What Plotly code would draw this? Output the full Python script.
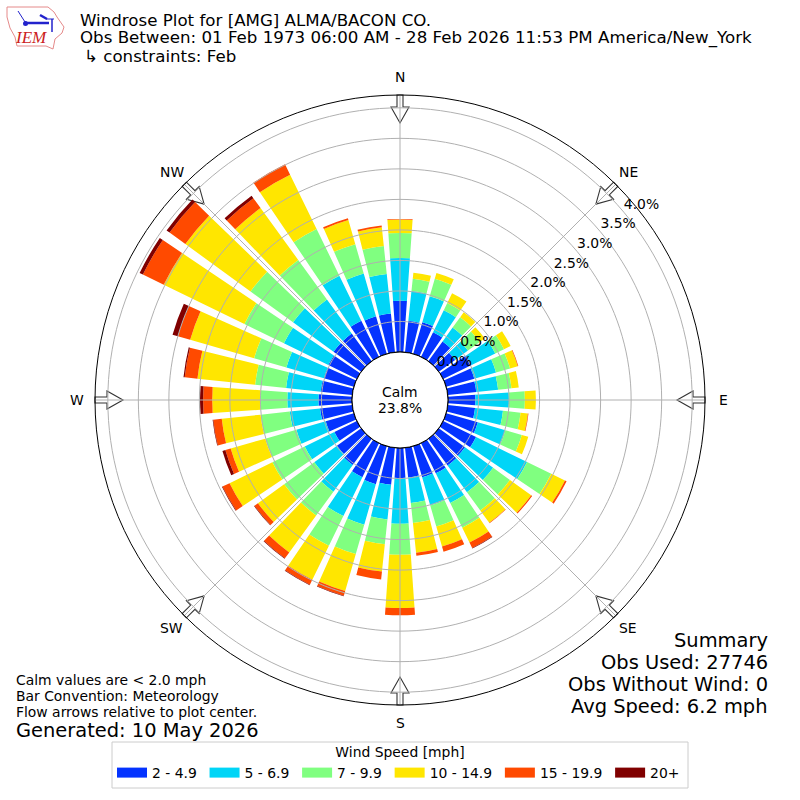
import math
import plotly.graph_objects as go

directions = list(range(0, 360, 10))
speed_bins = ["2 - 4.9", "5 - 6.9", "7 - 9.9", "10 - 14.9", "15 - 19.9", "20+"]
bin_colors = ["#0433ff", "#00d5f7", "#80ff80", "#ffe600", "#ff4a00", "#800000"]

# percent of observations per direction, one list per speed bin
speed_2_5 = [.84, .52, .54, .45, .40, .33, .52, .48, .47, .45, .45, .54,
             .60, .53, .54, .55, .53, .49, .49, .61, .65, .62, .53, .49,
             .41, .48, .53, .55, .52, .51, .52, .56, .56, .66, .64, .64]
speed_5_7 = [.70, .49, .44, .40, .28, .26, .43, .37, .36, .55, .46, .47,
             .93, .57, .54, .54, .48, .42, .75, .57, .69, .71, .54, .46,
             .54, .50, .50, .51, .57, .64, .81, .82, .69, .82, .73, .65]
speed_7_10 = [.41, .20, .30, .13, .21, .24, .16, .24, .22, .26, .29, .28,
              .44, .34, .37, .45, .36, .33, .51, .41, .50, .54, .48, .61,
              .59, .53, .48, .44, .51, .55, .72, .86, .80, .85, .50, .46]
speed_10_15 = [.22, .10, .10, .18, .10, .10, .12, .13, .12, .18, .12, .11,
               .25, .43, .25, .27, .34, .49, .87, .45, .63, .62, .75, .53,
               .78, .59, .64, .79, .95, 1.09, 1.47, 1.32, 1.05, .99, .41, .31]
speed_15_20 = [.01, 0, 0, 0, 0, 0, 0, .01, 0, 0, .01, 0,
               .03, .02, .01, .10, .09, .05, .12, .13, .08, .09, .12, .07,
               .13, .09, .14, .15, .21, .21, .38, .32, .20, .19, .03, .03]
speed_20_up = [0, 0, 0, 0, 0, 0, 0, 0, 0, 0, 0, 0,
               0, 0, 0, .01, 0, 0, 0, 0, .01, .01, .01, .01,
               .01, .05, .01, .05, .02, .09, .06, .06, .05, 0, 0, 0]
bin_values = [speed_2_5, speed_5_7, speed_7_10, speed_10_15, speed_15_20, speed_20_up]

radial_ticks = [0, 0.5, 1, 1.5, 2, 2.5, 3, 3.5, 4]
compass_angles = [0, 45, 90, 135, 180, 225, 270, 315]
compass_labels = ["N", "NE", "E", "SE", "S", "SW", "W", "NW"]

RMAX = 4.21
CENTER = 400
FONT = "DejaVu Sans"


def px(x, y):
    return x / 800, 1 - y / 800


def path_from(points, close=True):
    parts = []
    for i, (x, y) in enumerate(points):
        fx, fy = px(x, y)
        parts.append(("M" if i == 0 else "L") + f"{fx:.5f},{fy:.5f}")
    return " ".join(parts) + (" Z" if close else "")


def arrow_shape(angle):
    # white flow arrow pointing at the plot center, drawn in north position then rotated
    outline = [(-3, 305), (3, 305), (3, 293), (9, 293), (0, 277), (-9, 293), (-3, 293)]
    a = math.radians(angle)
    pts = []
    for off, r in outline:
        pts.append((CENTER + r * math.sin(a) + off * math.cos(a),
                    CENTER - r * math.cos(a) + off * math.sin(a)))
    return dict(type="path", xref="paper", yref="paper", path=path_from(pts),
                fillcolor="white", line=dict(color="#333333", width=1.1), layer="below")


fig = go.Figure()

for name, color, values in zip(speed_bins, bin_colors, bin_values):
    fig.add_trace(go.Barpolar(r=values, theta=directions, width=8, name=name,
                              marker=dict(color=color, line=dict(width=0)),
                              showlegend=False))

# grid sits on top of the bars in the original
ring_theta = list(range(0, 361, 2))
for tick in radial_ticks[1:]:
    fig.add_trace(go.Scatterpolar(r=[tick] * len(ring_theta), theta=ring_theta, mode="lines",
                                  line=dict(color="#b0b0b0", width=1), showlegend=False,
                                  hoverinfo="skip"))
for angle in compass_angles:
    fig.add_trace(go.Scatterpolar(r=[0, RMAX], theta=[angle, angle], mode="lines",
                                  line=dict(color="#b0b0b0", width=1), showlegend=False,
                                  hoverinfo="skip"))
fig.add_trace(go.Scatterpolar(r=[0] * len(ring_theta), theta=ring_theta, mode="lines",
                              line=dict(color="black", width=1), showlegend=False,
                              hoverinfo="skip"))

# radial labels, anchored bottom left of their point on the 50 degree line
fig.add_trace(go.Scatterpolar(r=radial_ticks, theta=[50] * len(radial_ticks), mode="text",
                              text=[f"{t:.1f}%" for t in radial_ticks], textposition="top right",
                              textfont=dict(size=13.9, color="black"), showlegend=False,
                              hoverinfo="skip"))

# legend entries
for name, color in zip(speed_bins, bin_colors):
    fig.add_trace(go.Scatterpolar(r=[None], theta=[None], mode="lines", name=name + "\u2009",
                                  line=dict(color=color, width=10)))

shapes = [arrow_shape(a) for a in compass_angles]

# legend box
shapes.append(dict(type="rect", xref="paper", yref="paper",
                   x0=px(112, 0)[0], x1=px(688, 0)[0], y0=px(0, 788)[1], y1=px(0, 742)[1],
                   fillcolor="white", line=dict(color="#cccccc", width=1), layer="above"))

# IEM logo
iowa = [(7, 7), (48, 7), (54, 12), (57, 17), (64, 27), (62, 33), (55, 39), (53, 49),
        (46, 46), (17, 46), (15, 37), (10, 28), (7, 17)]
shapes.append(dict(type="path", xref="paper", yref="paper", path=path_from(iowa),
                   fillcolor="white", line=dict(color="#e58a8a", width=1), layer="above"))
for seg, lw in [([(25, 23), (49, 23)], 2.5), ([(46, 19), (54, 19)], 1), ([(52, 19), (52, 32)], 1.5),
                ([(18, 11), (25, 22)], 1), ([(40, 15), (47, 19)], 2.5)]:
    shapes.append(dict(type="path", xref="paper", yref="paper", path=path_from(seg, close=False),
                       line=dict(color="#2222cc", width=lw), layer="above"))
shapes.append(dict(type="circle", xref="paper", yref="paper",
                   x0=px(23, 0)[0], x1=px(28, 0)[0], y0=px(0, 26)[1], y1=px(0, 21)[1],
                   fillcolor="#2222cc", line=dict(width=0), layer="above"))

annotations = [
    dict(x=78, y=20, text="Windrose Plot for [AMG] ALMA/BACON CO.", size=16.67),
    dict(x=78, y=38, text="Obs Between: 01 Feb 1973 06:00 AM - 28 Feb 2026 11:53 PM America/New_York", size=16.67),
    dict(x=82, y=56, text="↳ constraints: Feb", size=16.67),
    dict(x=14, y=680, text="Calm values are < 2.0 mph", size=13.9),
    dict(x=14, y=696, text="Bar Convention: Meteorology", size=13.9),
    dict(x=14, y=712, text="Flow arrows relative to plot center.", size=13.9),
    dict(x=14, y=730, text="Generated: 10 May 2026", size=19.44),
    dict(x=770, y=640, text="Summary", size=19.44, anchor="right"),
    dict(x=770, y=662, text="Obs Used: 27746", size=19.44, anchor="right"),
    dict(x=770, y=684, text="Obs Without Wind: 0", size=19.44, anchor="right"),
    dict(x=770, y=706, text="Avg Speed: 6.2 mph", size=19.44, anchor="right"),
    dict(x=400, y=392, text="Calm", size=13.9, anchor="center"),
    dict(x=400, y=408, text="23.8%", size=13.9, anchor="center"),
    dict(x=31, y=38, text="<i>IEM</i>", size=17, anchor="center", color="#cc2020", family="Liberation Serif"),
]
# compass labels sit on a ring just outside the plot
for angle, label in zip(compass_angles, compass_labels):
    a = math.radians(angle)
    annotations.append(dict(x=CENTER + 323 * math.sin(a), y=CENTER - 323 * math.cos(a),
                            text=label, size=13.9, anchor="center"))

layout_annotations = []
for a in annotations:
    fx, fy = px(a["x"], a["y"])
    layout_annotations.append(dict(x=fx, y=fy, xref="paper", yref="paper", text=a["text"],
                                   showarrow=False, xanchor=a.get("anchor", "left"), yanchor="middle",
                                   font=dict(family=a.get("family", FONT), size=a["size"],
                                             color=a.get("color", "black"))))

fig.update_layout(
    width=800, height=800, margin=dict(l=0, r=0, t=0, b=0),
    paper_bgcolor="white", font=dict(family=FONT, size=13.9, color="black"),
    polar=dict(
        domain=dict(x=[95 / 800, 705 / 800], y=[95 / 800, 705 / 800]),
        bgcolor="rgba(0,0,0,0)", hole=48 / 305, barmode="stack",
        angularaxis=dict(direction="clockwise", rotation=90, tickmode="array",
                         tickvals=compass_angles, showticklabels=False,
                         showgrid=False, showline=True, linecolor="black", linewidth=1,
                         ticks=""),
        radialaxis=dict(range=[0, RMAX], showticklabels=False,
                        showgrid=False, showline=False, ticks=""),
    ),
    legend=dict(orientation="h", x=0.5, xanchor="center", y=1 - 739 / 800, yanchor="top",
                bgcolor="rgba(0,0,0,0)", borderwidth=0, itemwidth=30,
                title=dict(text="Wind Speed [mph]", side="top center", font=dict(size=13.9)),
                font=dict(size=13.9)),
    shapes=shapes,
    annotations=layout_annotations,
)

fig.write_html("out.html", config=dict(displayModeBar=False),
               post_script="document.body.style.margin='0';")
